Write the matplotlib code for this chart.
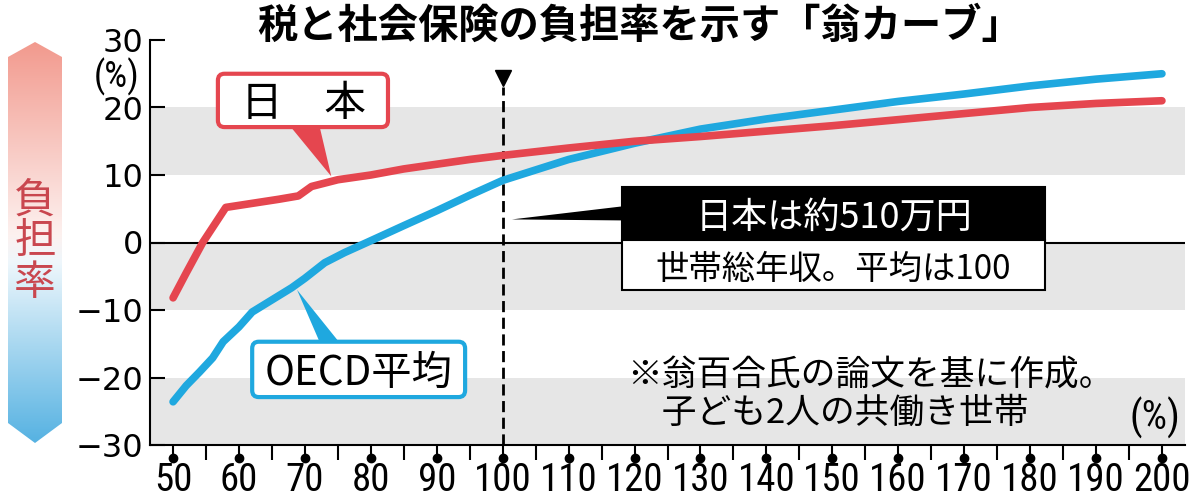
import numpy as np
import matplotlib
matplotlib.use('Agg')
import matplotlib.pyplot as plt
import matplotlib.transforms as mtransforms
from matplotlib import font_manager
from matplotlib.colors import LinearSegmentedColormap
from matplotlib.patches import FancyBboxPatch, Polygon, Rectangle

JP = 'Noto Sans CJK JP'
names = {f.name for f in font_manager.fontManager.ttflist}
NARROW = 'Liberation Sans'
for cand in ['Roboto Condensed', 'Fira Sans Extra Condensed', 'Sofia Sans Condensed',
             'Liberation Sans Narrow', 'Encode Sans Condensed']:
    if cand in names:
        NARROW = cand
        break
plt.rcParams['font.family'] = [JP, 'DejaVu Sans']

RED = '#e5464f'
BLUE = '#1fa8df'

# 世帯総年収（平均=100）と負担率(%)
income_jp = [50, 52, 54.5, 58, 62, 66, 69, 71, 75, 80, 85, 90, 95, 100,
             110, 120, 130, 140, 150, 160, 170, 180, 190, 200]
rate_jp = [-8.2, -4.5, 0, 5.2, 5.8, 6.4, 6.9, 8.3, 9.3, 10.0, 10.9, 11.6, 12.3, 12.9,
           14.0, 15.0, 15.7, 16.5, 17.3, 18.2, 19.1, 20.0, 20.6, 21.0]

income_oecd = [50, 52, 54, 56, 57.6, 60, 62, 65, 68, 70, 73, 76, 79.4, 85, 90, 95, 100,
               110, 120, 130, 140, 150, 160, 170, 180, 190, 200]
rate_oecd = [-23.6, -21.2, -19.2, -17.1, -14.7, -12.5, -10.3, -8.5, -6.7, -5.3, -3.0, -1.5, 0,
             2.5, 4.7, 7.0, 9.2, 12.3, 14.7, 16.8, 18.3, 19.6, 20.9, 22.0, 23.2, 24.2, 25.0]

xticks = list(range(50, 201, 10))
xminor = list(range(55, 200, 10))
yticks = [-30, -20, -10, 0, 10, 20, 30]
bands = [(10, 20), (-10, 0), (-30, -20)]

title = '税と社会保険の負担率を示す「翁カーブ」'

fig = plt.figure(figsize=(12, 5.04), dpi=100)

# left gradient arrow
bg = fig.add_axes([0, 0, 1, 1])
bg.set_xlim(0, 1200)
bg.set_ylim(504, 0)
bg.axis('off')
bg.patch.set_visible(False)
cmap = LinearSegmentedColormap.from_list('arrow', [(0, '#f29a8e'), (0.48, '#fdf1ef'),
                                                   (0.55, '#eef7fc'), (1, '#56b2e2')])
grad = np.linspace(0, 1, 256).reshape(-1, 1)
im = bg.imshow(grad, cmap=cmap, extent=(8, 62, 443, 42), aspect='auto')
arrow = Polygon([(35, 42), (62, 57), (62, 423), (35, 443), (8, 423), (8, 57)],
                closed=True, transform=bg.transData)
im.set_clip_path(arrow)
bg.text(35, 242, '負\n担\n率', ha='center', va='center', fontsize=30,
        color='#c9474f', linespacing=1.0)

fig.text(640 / 1200, 1 - 26 / 504, title, ha='center', va='center',
         fontsize=29, fontweight='bold')
fig.text(117 / 1200, 1 - 77 / 504, '(%)', ha='center', va='center',
         fontsize=26, family=NARROW)

ax = fig.add_axes([150 / 1200, 59 / 504, 1035 / 1200, 405 / 504])
ax.set_xlim(46.5, 203.5)
ax.set_ylim(-30, 30)
for lo, hi in bands:
    ax.axhspan(lo, hi, color='#e6e6e6', lw=0, zorder=0)
ax.axhline(0, color='black', lw=1.5, zorder=1)

ax.plot([100, 100], [-30, 23], color='black', lw=2, ls=(0, (4, 2)), zorder=2)
ax.plot([100], [24.4], marker='v', ms=12, color='black', zorder=2)

ax.plot(income_oecd, rate_oecd, color=BLUE, lw=5.5, solid_capstyle='round', zorder=3)
ax.plot(income_jp, rate_jp, color=RED, lw=5.5, solid_capstyle='round', zorder=4)

for s in ['top', 'right']:
    ax.spines[s].set_visible(False)
for s in ['left', 'bottom']:
    ax.spines[s].set_linewidth(1.5)

ax.set_xticks(xticks)
ax.set_xticks(xminor, minor=True)
ax.set_yticks(yticks)
ax.tick_params(axis='x', which='both', direction='out', length=11, width=1.5,
               labelsize=28, pad=1)
ax.tick_params(axis='y', direction='in', length=11, width=1.5, labelsize=23, pad=5)
for lab in ax.get_xticklabels():
    lab.set_fontfamily(NARROW)
for lab in ax.get_yticklabels():
    lab.set_fontfamily('DejaVu Sans')

trans = mtransforms.blended_transform_factory(ax.transData, ax.transAxes)
ax.plot(xticks, [-0.032] * len(xticks), 'o', ms=6, color='black',
        transform=trans, clip_on=False)

# 日本 label
ax.add_patch(Polygon([(67.7, 17.3), (72.2, 17.3), (74.0, 9.8)], closed=True,
                     facecolor=RED, edgecolor='none', zorder=5))
ax.add_patch(FancyBboxPatch((56.8, 17.1), 25.8, 7.9,
                            boxstyle='round,pad=0,rounding_size=1.0',
                            facecolor='white', edgecolor=RED, lw=3, zorder=6))
ax.text(69.7, 21.05, '日　本', ha='center', va='center_baseline', fontsize=30, zorder=7)

# OECD label
ax.add_patch(Polygon([(72.3, -14.9), (75.3, -14.9), (68.8, -7.0)], closed=True,
                     facecolor=BLUE, edgecolor='none', zorder=5))
ax.add_patch(FancyBboxPatch((62.0, -22.9), 32.3, 8.2,
                            boxstyle='round,pad=0,rounding_size=1.0',
                            facecolor='white', edgecolor=BLUE, lw=3, zorder=6))
ax.text(78.15, -18.8, 'OECD平均', ha='center', va='center_baseline', fontsize=29, zorder=7)

# 平均世帯の注記
ax.add_patch(Polygon([(101.4, 3.42), (118.2, 5.36), (118.2, 3.27)], closed=True,
                     facecolor='black', edgecolor='none', zorder=5))
ax.add_patch(Rectangle((118.1, 0.3), 64.2, 7.9, facecolor='black',
                       edgecolor='black', lw=1.5, zorder=6))
ax.add_patch(Rectangle((118.1, -7.0), 64.2, 7.3, facecolor='white',
                       edgecolor='black', lw=1.5, zorder=6))
ax.text(150.2, 4.25, '日本は約510万円', ha='center', va='center_baseline',
        fontsize=26, color='white', zorder=7)
ax.text(150.2, -3.35, '世帯総年収。平均は100', ha='center', va='center_baseline',
        fontsize=24, zorder=7)

ax.text(118.9, -22.5, '※翁百合氏の論文を基に作成。\n　子ども2人の共働き世帯',
        ha='left', va='center', fontsize=25, linespacing=1.1, zorder=7)
ax.text(199.0, -26.0, '(%)', ha='center', va='center', fontsize=29, family=NARROW)

fig.savefig('out.png', dpi=100)
